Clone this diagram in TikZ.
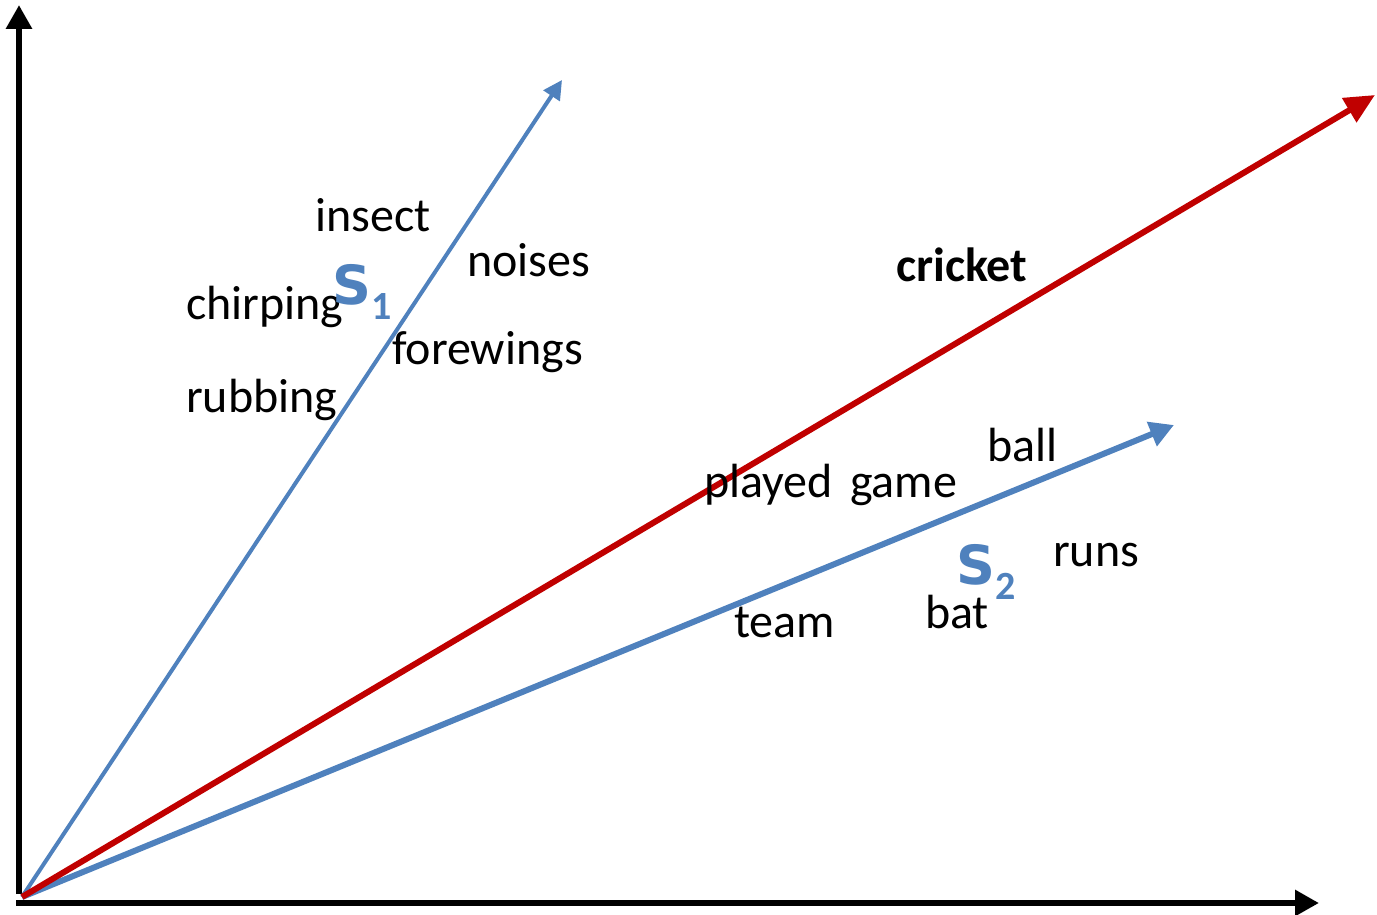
\documentclass[tikz,border=0pt]{standalone}
\usepackage{fontspec}
\setmainfont{Carlito}
\newfontfamily\sfont{DejaVu Sans}
\usetikzlibrary{arrows.meta}
\definecolor{vblue}{RGB}{79,129,189}
\definecolor{vred}{RGB}{192,0,0}
\newcommand{\svec}[1]{{\sfont\bfseries\fontsize{54}{56}\selectfont S}\raisebox{-15pt}{\bfseries\fontsize{40}{42}\selectfont #1}}
\begin{document}
\begin{tikzpicture}[x=1pt,y=1pt,
  word/.style={anchor=base west,inner sep=0pt,font=\fontsize{48}{50}\selectfont},
  sname/.style={anchor=base west,inner sep=0pt,text=vblue},
  axis/.style={line width=6pt,-{Triangle[length=24pt,width=25pt]}},
  thinvec/.style={vblue,line width=4pt,-{Triangle[length=19pt,width=19pt]}},
  thickvec/.style={vblue,line width=6pt,-{Triangle[length=24pt,width=25pt]}},
  redvec/.style={vred,line width=6pt,-{Triangle[length=30pt,width=27pt]}}]
\useasboundingbox (0,0) rectangle (1377,914);
\coordinate (o) at (22,17);
\coordinate (ybot) at (19,20);
\coordinate (ytop) at (19,909);
\coordinate (xleft) at (16,11);
\coordinate (xright) at (1319,11);
\coordinate (s1tip) at (562,834);
\coordinate (ctip) at (1375,819);
\coordinate (s2tip) at (1174,489);
\draw[axis] (ybot) -- (ytop);
\draw[axis] (xleft) -- (xright);
\draw[thinvec] (o) -- (s1tip);
\draw[thickvec] (o) -- (s2tip);
\draw[redvec] (o) -- (ctip);
\node[word] (insect) at (315,682) {insect};
\node[word] (noises) at (467,637) {noises};
\node[word] (chirping) at (186,594) {chirping};
\node[word] (forewings) at (392,549) {forewings};
\node[word] (rubbing) at (186,501) {rubbing};
\node[word,font=\fontsize{48}{50}\selectfont\bfseries] (cricket) at (896,632) {cricket};
\node[word] (ball) at (987,452) {ball};
\node[word] (played) at (704,416) {played};
\node[word] (game) at (850,416) {game};
\node[word] (runs) at (1053,347) {runs};
\node[word] (bat) at (925,285) {bat};
\node[word] (team) at (734,276) {team};
\node[sname] (s1) at (332,609) {\svec{1}};
\node[sname] (s2) at (956,329) {\svec{2}};
\end{tikzpicture}
\end{document}
